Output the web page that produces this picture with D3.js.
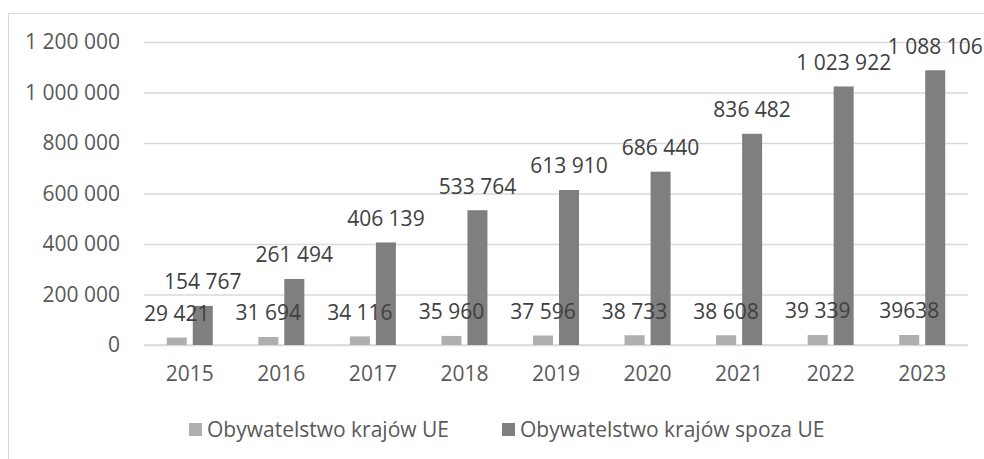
<!DOCTYPE html>
<html>
<head>
<meta charset="utf-8">
<script src="https://cdn.jsdelivr.net/npm/d3@7"></script>
<style>
  body { margin: 0; background: #fff; }
  svg { display: block; font-family: "Open Sans", "Liberation Sans", Arial, sans-serif; }
</style>
</head>
<body>
<div id="chart"></div>
<script>
// data
const years = ["2015", "2016", "2017", "2018", "2019", "2020", "2021", "2022", "2023"];
const euValues = [29421, 31694, 34116, 35960, 37596, 38733, 38608, 39339, 39638];
const nonEuValues = [154767, 261494, 406139, 533764, 613910, 686440, 836482, 1023922, 1088106];
const euLabels = ["29 421", "31 694", "34 116", "35 960", "37 596", "38 733", "38 608", "39 339", "39638"];
const yTicks = [0, 200000, 400000, 600000, 800000, 1000000, 1200000];
const seriesNames = ["Obywatelstwo krajów UE", "Obywatelstwo krajów spoza UE"];

(function () {
  const W = 984, H = 459;
  const plot = { left: 144, right: 968, top: 42, bottom: 345 };
  const colors = ["#afafaf", "#7f7f7f"];
  const textColor = "#595959";
  const fontSize = 21;
  const font = "'Open Sans', 'Liberation Sans', Arial, sans-serif";

  const svg = d3.select("#chart").append("svg")
    .attr("width", W)
    .attr("height", H);

  // outer chart frame (runs off the right/bottom of the picture)
  svg.append("rect")
    .attr("x", 8.5).attr("y", 13.5)
    .attr("width", 1100).attr("height", 600)
    .attr("fill", "none")
    .attr("stroke", "#d9d9d9")
    .attr("stroke-width", 1);

  const x0 = d3.scaleBand()
    .domain(years)
    .range([plot.left, plot.right])
    .paddingInner(0.4976)
    .paddingOuter(0.2488);

  const x1 = d3.scaleBand()
    .domain([0, 1])
    .range([0, x0.bandwidth()])
    .paddingInner(0.2308);

  const y = d3.scaleLinear()
    .domain([0, 1200000])
    .range([plot.bottom, plot.top]);

  const fmt = d3.formatLocale({ decimal: ",", thousands: " ", grouping: [3], currency: ["", ""] }).format(",d");

  // gridlines + y labels
  const yAxis = svg.append("g")
    .attr("transform", `translate(${plot.left},0)`)
    .call(d3.axisLeft(y).tickValues(yTicks).tickSize(-(plot.right - plot.left)).tickPadding(24).tickFormat(fmt));
  yAxis.select(".domain").remove();
  yAxis.selectAll(".tick line").attr("stroke", "#d9d9d9").attr("stroke-width", 1.3);
  yAxis.selectAll(".tick text")
    .attr("fill", textColor)
    .style("font-size", fontSize + "px")
    .style("font-family", font);

  // x labels
  const xAxis = svg.append("g")
    .attr("transform", `translate(0,${plot.bottom})`)
    .call(d3.axisBottom(x0).tickSize(0).tickPadding(21));
  xAxis.select(".domain").attr("stroke", "#d9d9d9").attr("stroke-width", 1.3)
    .attr("d", `M${plot.left},0H${plot.right}`);
  xAxis.selectAll(".tick text")
    .attr("fill", textColor)
    .style("font-size", fontSize + "px")
    .style("font-family", font);

  const rows = years.map((yr, i) => ({ year: yr, vals: [euValues[i], nonEuValues[i]], labels: [euLabels[i], fmt(nonEuValues[i])] }));

  const groups = svg.append("g").selectAll("g")
    .data(rows)
    .join("g")
    .attr("transform", d => `translate(${x0(d.year)},0)`);

  groups.selectAll("rect")
    .data(d => d.vals.map((v, k) => ({ k, v })))
    .join("rect")
    .attr("x", d => x1(d.k))
    .attr("y", d => y(d.v))
    .attr("width", x1.bandwidth())
    .attr("height", d => y(0) - y(d.v))
    .attr("fill", d => colors[d.k]);

  // value labels drawn after bars so they sit on top
  groups.selectAll("text.val")
    .data(d => d.vals.map((v, k) => ({ k, v, label: d.labels[k] })))
    .join("text")
    .attr("class", "val")
    .attr("x", d => x1(d.k) + x1.bandwidth() / 2)
    .attr("y", d => y(d.v) - 24)
    .attr("dy", "0.35em")
    .attr("text-anchor", "middle")
    .attr("fill", "#404040")
    .style("font-size", fontSize + "px")
    .style("font-family", font)
    .text(d => d.label);

  // legend
  const legendX = [189, 502];
  const legend = svg.append("g");
  seriesNames.forEach((name, k) => {
    legend.append("rect")
      .attr("x", legendX[k]).attr("y", 423)
      .attr("width", 13).attr("height", 13)
      .attr("fill", colors[k]);
    legend.append("text")
      .attr("x", legendX[k] + 18)
      .attr("y", 430)
      .attr("dy", "0.35em")
      .attr("fill", textColor)
      .style("font-size", fontSize + "px")
      .style("font-family", font)
      .text(name);
  });
})();
</script>
</body>
</html>
